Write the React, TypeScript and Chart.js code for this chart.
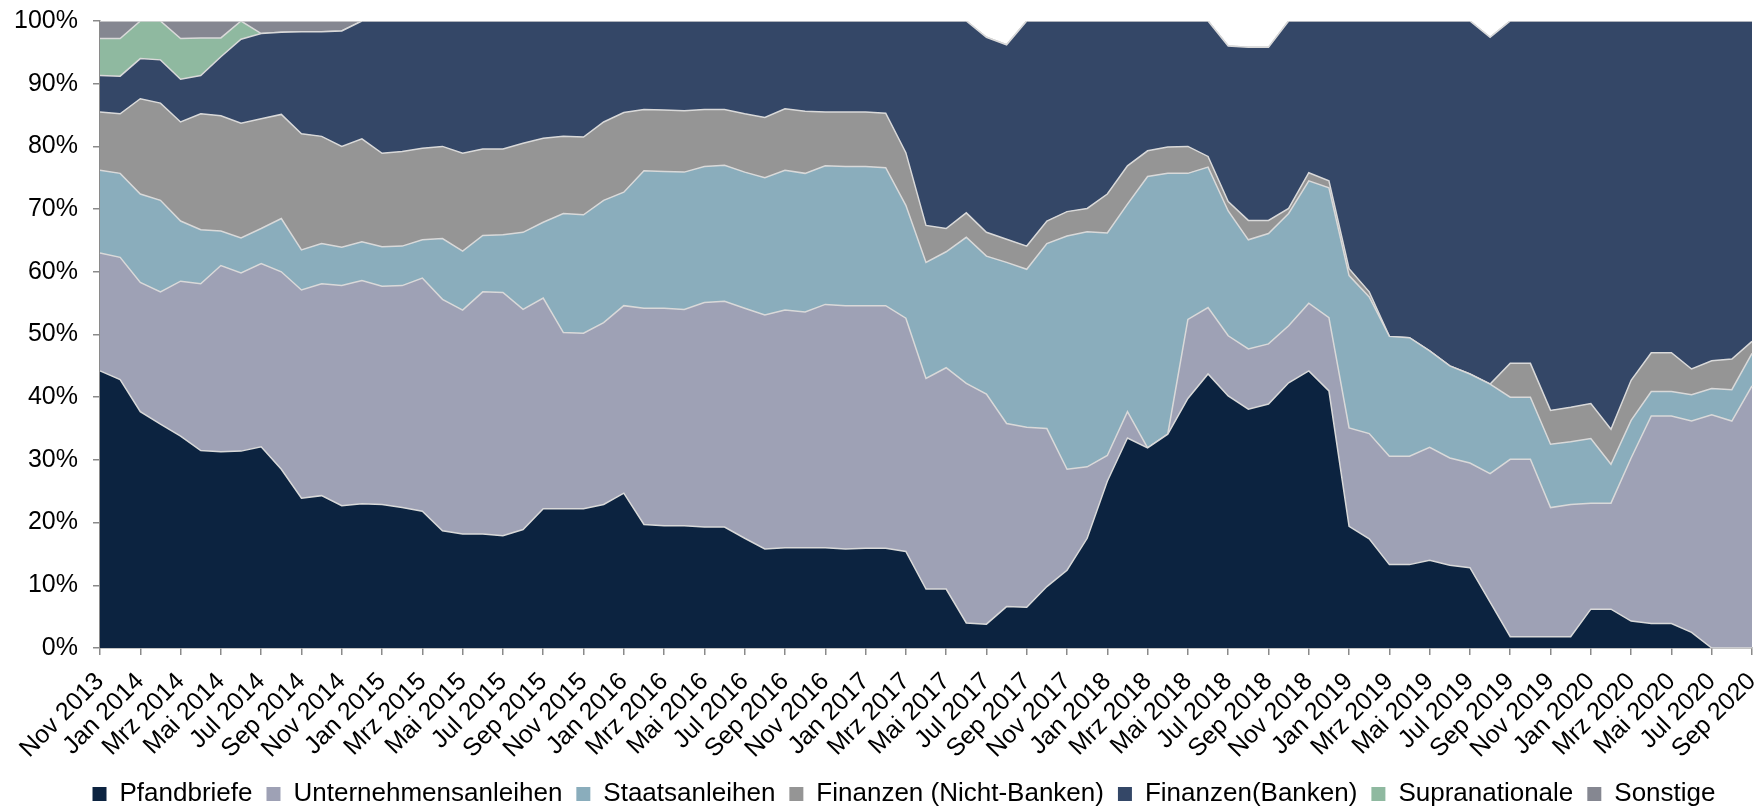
import React, { useEffect, useRef } from 'react';
import { Chart, registerables } from 'chart.js';

Chart.register(...registerables);

const months = [
  'Nov 2013', 'Dez 2013',
  'Jan 2014', 'Feb 2014', 'Mrz 2014', 'Apr 2014', 'Mai 2014', 'Jun 2014', 'Jul 2014', 'Aug 2014', 'Sep 2014', 'Okt 2014', 'Nov 2014', 'Dez 2014',
  'Jan 2015', 'Feb 2015', 'Mrz 2015', 'Apr 2015', 'Mai 2015', 'Jun 2015', 'Jul 2015', 'Aug 2015', 'Sep 2015', 'Okt 2015', 'Nov 2015', 'Dez 2015',
  'Jan 2016', 'Feb 2016', 'Mrz 2016', 'Apr 2016', 'Mai 2016', 'Jun 2016', 'Jul 2016', 'Aug 2016', 'Sep 2016', 'Okt 2016', 'Nov 2016', 'Dez 2016',
  'Jan 2017', 'Feb 2017', 'Mrz 2017', 'Apr 2017', 'Mai 2017', 'Jun 2017', 'Jul 2017', 'Aug 2017', 'Sep 2017', 'Okt 2017', 'Nov 2017', 'Dez 2017',
  'Jan 2018', 'Feb 2018', 'Mrz 2018', 'Apr 2018', 'Mai 2018', 'Jun 2018', 'Jul 2018', 'Aug 2018', 'Sep 2018', 'Okt 2018', 'Nov 2018', 'Dez 2018',
  'Jan 2019', 'Feb 2019', 'Mrz 2019', 'Apr 2019', 'Mai 2019', 'Jun 2019', 'Jul 2019', 'Aug 2019', 'Sep 2019', 'Okt 2019', 'Nov 2019', 'Dez 2019',
  'Jan 2020', 'Feb 2020', 'Mrz 2020', 'Apr 2020', 'Mai 2020', 'Jun 2020', 'Jul 2020', 'Aug 2020', 'Sep 2020',
];

const pfandbriefe = [
  44.2, 42.8, 37.7, 35.7, 33.8, 31.5, 31.3, 31.4, 32.1, 28.5,
  23.9, 24.3, 22.7, 23.0, 22.9, 22.4, 21.8, 18.7, 18.2, 18.2,
  17.9, 18.9, 22.2, 22.2, 22.2, 22.9, 24.7, 19.7, 19.5, 19.5,
  19.3, 19.3, 17.5, 15.8, 16.0, 16.0, 16.0, 15.8, 15.9, 15.9,
  15.4, 9.4, 9.4, 4.0, 3.8, 6.6, 6.5, 9.8, 12.4, 17.5,
  26.6, 33.5, 31.9, 34.1, 39.8, 43.7, 40.2, 38.1, 38.9, 42.3,
  44.2, 41.0, 19.4, 17.4, 13.3, 13.3, 14.0, 13.2, 12.8, 7.3,
  1.8, 1.8, 1.8, 1.8, 6.2, 6.2, 4.3, 3.9, 3.9, 2.5,
  0, 0, 0,
];

const unternehmensanleihen = [
  18.8, 19.5, 20.6, 21.1, 24.7, 26.6, 29.7, 28.4, 29.2, 31.5,
  33.2, 33.8, 35.1, 35.6, 34.8, 35.4, 37.2, 36.9, 35.7, 38.6,
  38.8, 35.1, 33.6, 28.1, 28.0, 29.0, 29.9, 34.5, 34.7, 34.5,
  35.8, 36.0, 36.7, 37.3, 37.9, 37.6, 38.8, 38.8, 38.7, 38.7,
  37.2, 33.6, 35.3, 38.2, 36.7, 29.2, 28.7, 25.2, 16.1, 11.4,
  4.1, 4.2, 0, 0, 12.6, 10.6, 9.6, 9.6, 9.6, 9.1,
  10.8, 11.7, 15.7, 16.8, 17.3, 17.3, 18.0, 17.1, 16.7, 20.5,
  28.3, 28.3, 20.6, 21.1, 16.9, 16.9, 26.0, 33.1, 33.1, 33.7,
  37.2, 36.2, 41.8,
];

const staatsanleihen = [
  13.2, 13.4, 14.1, 14.6, 9.6, 8.6, 5.5, 5.6, 5.6, 8.5,
  6.4, 6.4, 6.1, 6.2, 6.3, 6.3, 6.1, 9.7, 9.4, 9.0,
  9.2, 12.3, 12.1, 19.0, 18.9, 19.5, 18.1, 21.9, 21.8, 21.9,
  21.7, 21.7, 21.7, 21.9, 22.3, 22.1, 22.1, 22.2, 22.2, 22.0,
  18.0, 18.5, 18.5, 23.3, 22.0, 25.7, 25.2, 29.5, 37.2, 37.5,
  35.5, 33.1, 43.3, 41.6, 23.3, 22.4, 19.9, 17.4, 17.6, 17.9,
  19.5, 20.7, 24.3, 21.8, 19.1, 18.9, 15.4, 14.7, 14.2, 14.3,
  9.9, 9.9, 10.1, 10.0, 10.3, 6.2, 6.0, 3.9, 3.9, 4.2,
  4.2, 5.0, 5.2,
];

const finanzenNichtBanken = [
  9.3, 9.5, 15.2, 15.5, 15.8, 18.5, 18.4, 18.3, 17.5, 16.6,
  18.5, 17.1, 16.1, 16.4, 14.9, 15.1, 14.6, 14.7, 15.6, 13.8,
  13.7, 14.2, 13.4, 12.3, 12.4, 12.5, 12.7, 9.8, 9.8, 9.8,
  9.1, 8.9, 9.3, 9.6, 9.8, 9.9, 8.6, 8.7, 8.7, 8.7,
  8.4, 5.9, 3.7, 3.9, 3.8, 3.7, 3.7, 3.6, 3.9, 3.7,
  6.2, 6.1, 4.1, 4.2, 4.3, 1.7, 1.5, 3.1, 2.1, 0.8,
  1.3, 1.1, 1.1, 0.8, 0, 0, 0, 0, 0, 0,
  5.4, 5.4, 5.4, 5.5, 5.6, 5.6, 6.4, 6.2, 6.2, 4.1,
  4.4, 4.9, 1.9,
];

const finanzenBanken = [
  5.8, 6.0, 6.4, 6.9, 6.8, 6.1, 9.4, 13.4, 13.6, 13.1,
  16.3, 16.7, 18.4, 18.8, 21.1, 20.8, 20.3, 20.0, 21.1, 20.4,
  20.4, 19.5, 18.7, 18.4, 18.5, 16.1, 14.6, 14.1, 14.2, 14.3,
  14.1, 14.1, 14.8, 15.4, 14.0, 14.4, 14.5, 14.5, 14.5, 14.7,
  21.0, 32.6, 33.1, 30.6, 31.1, 31.0, 35.9, 31.9, 30.4, 29.9,
  27.6, 23.1, 20.7, 20.1, 20.0, 21.6, 24.8, 27.6, 27.6, 29.9,
  24.2, 25.5, 39.5, 43.2, 50.3, 50.5, 52.6, 55.0, 56.3, 55.3,
  54.6, 54.6, 62.1, 61.6, 61.0, 65.1, 57.3, 52.9, 52.9, 55.5,
  54.2, 53.9, 51.1,
];

const supranationale = [
  5.9, 6.0, 6.0, 6.2, 6.5, 6.0, 3.0, 2.9, 0, 0,
  0, 0, 0, 0, 0, 0, 0, 0, 0, 0,
  0, 0, 0, 0, 0, 0, 0, 0, 0, 0,
  0, 0, 0, 0, 0, 0, 0, 0, 0, 0,
  0, 0, 0, 0, 0, 0, 0, 0, 0, 0,
  0, 0, 0, 0, 0, 0, 0, 0, 0, 0,
  0, 0, 0, 0, 0, 0, 0, 0, 0, 0,
  0, 0, 0, 0, 0, 0, 0, 0, 0, 0,
  0, 0, 0,
];

const sonstige = [
  2.8, 2.8, 0, 0, 2.8, 2.7, 2.7, 0, 2.0, 1.8,
  1.7, 1.7, 1.6, 0, 0, 0, 0, 0, 0, 0,
  0, 0, 0, 0, 0, 0, 0, 0, 0, 0,
  0, 0, 0, 0, 0, 0, 0, 0, 0, 0,
  0, 0, 0, 0, 0, 0, 0, 0, 0, 0,
  0, 0, 0, 0, 0, 0, 0, 0, 0, 0,
  0, 0, 0, 0, 0, 0, 0, 0, 0, 0,
  0, 0, 0, 0, 0, 0, 0, 0, 0, 0,
  0, 0, 0,
];

const seriesNames = [
  'Pfandbriefe', 'Unternehmensanleihen', 'Staatsanleihen', 'Finanzen (Nicht-Banken)',
  'Finanzen(Banken)', 'Supranationale', 'Sonstige',
];
const seriesColors = ['#0c2340', '#9ea1b5', '#8aadbc', '#959595', '#344767', '#8fb9a0', '#858791'];
const yTicks = [0, 10, 20, 30, 40, 50, 60, 70, 80, 90, 100];

const FONT = "'Liberation Sans', Arial, sans-serif";
const AXIS_COLOR = '#8a8a8a';

export default function App() {
  const ref = useRef<HTMLCanvasElement>(null);

  useEffect(() => {
    document.body.style.margin = '0';
    document.body.style.overflow = 'hidden';
    const canvas = ref.current;
    if (!canvas) return;

    const values = [
      pfandbriefe, unternehmensanleihen, staatsanleihen, finanzenNichtBanken,
      finanzenBanken, supranationale, sonstige,
    ];
    const datasets = values.map((data, i) => ({
      label: seriesNames[i],
      data,
      backgroundColor: seriesColors[i],
      borderColor: '#d9d9d9',
      borderWidth: 1.5,
      fill: i === 0 ? 'origin' : '-1',
      pointRadius: 0,
      pointHoverRadius: 0,
      tension: 0,
    }));

    const legendShift = {
      id: 'legendShift',
      afterLayout(chart: any) {
        const l = chart.legend;
        if (!l) return;
        const dy = 10;
        const dx = 28;
        l.top += dy;
        l.bottom += dy;
        l.left += dx;
        l.right += dx;
      },
    };

    const chart = new Chart(canvas, {
      type: 'line',
      data: { labels: months, datasets: datasets as any },
      plugins: [legendShift],
      options: {
        animation: false,
        responsive: false,
        maintainAspectRatio: false,
        layout: { padding: { top: 21, right: 9, left: 0, bottom: 0 } },
        plugins: {
          tooltip: { enabled: false },
          legend: {
            position: 'bottom',
            labels: {
              color: '#000',
              font: { family: FONT, size: 26 },
              boxWidth: 14,
              boxHeight: 14,
              padding: 14,
              generateLabels: (chart: any) => {
                const base = Chart.defaults.plugins.legend.labels.generateLabels(chart);
                return base.map((item: any, i: number) => ({
                  ...item,
                  fillStyle: seriesColors[i],
                  strokeStyle: seriesColors[i],
                  lineWidth: 0,
                }));
              },
            },
          },
        },
        scales: {
          x: {
            type: 'category',
            offset: false,
            grid: {
              display: true,
              drawOnChartArea: false,
              drawTicks: true,
              tickLength: 7,
              lineWidth: 1.5,
              color: (ctx: any) => (ctx.index % 2 === 0 ? AXIS_COLOR : 'rgba(0,0,0,0)'),
            },
            border: { display: true, color: AXIS_COLOR, width: 1.5 },
            ticks: {
              autoSkip: false,
              maxRotation: 45,
              minRotation: 45,
              padding: 12,
              color: '#000',
              font: { family: FONT, size: 25 },
              callback: (_v: any, index: number) => (index % 2 === 0 ? months[index] : ''),
            },
            afterFit: (s: any) => {
              s.paddingLeft = 0;
              s.paddingRight = 0;
              s.height = 109;
            },
          },
          y: {
            stacked: true,
            min: 0,
            max: 100,
            afterBuildTicks: (s: any) => {
              s.ticks = yTicks.map((v) => ({ value: v }));
            },
            grid: {
              display: true,
              drawOnChartArea: false,
              drawTicks: true,
              tickLength: 7,
              lineWidth: 1.5,
              color: AXIS_COLOR,
            },
            border: { display: true, color: AXIS_COLOR, width: 1.5 },
            ticks: {
              padding: 15,
              color: '#000',
              font: { family: FONT, size: 25 },
              callback: (v: any) => `${v}%`,
            },
            afterFit: (s: any) => {
              s.width = 100;
              s.paddingTop = 0;
              s.paddingBottom = 0;
            },
          },
        },
      },
    });

    return () => chart.destroy();
  }, []);

  return <canvas ref={ref} width={1761} height={807} style={{ display: 'block' }} />;
}
